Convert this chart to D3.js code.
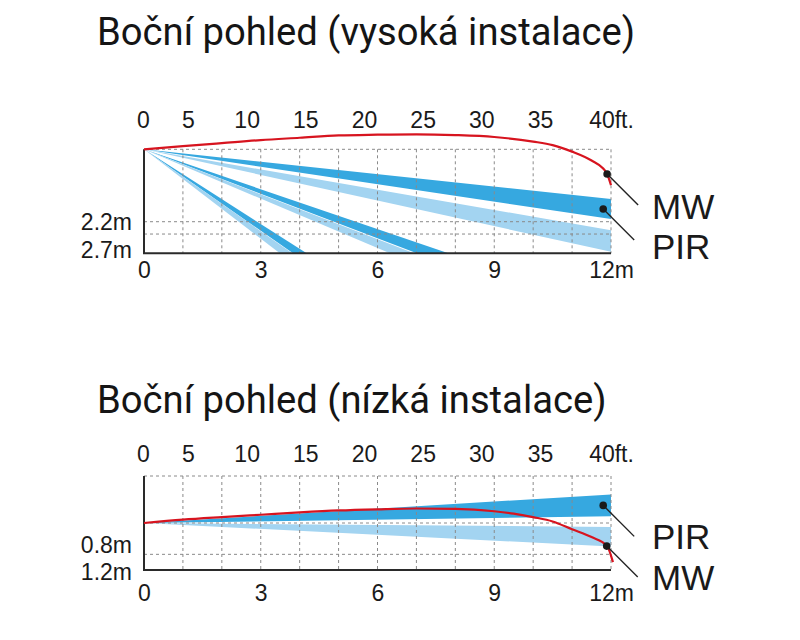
<!DOCTYPE html>
<html>
<head>
<meta charset="utf-8">
<script src="https://cdn.jsdelivr.net/npm/d3@7"></script>
<style>
    html, body { margin: 0; padding: 0; background: #fff; }
    svg { display: block; }
</style>
</head>
<body>
<div class="chart-container"></div>
<script>
// ---- data ----
const titles = ["Boční pohled (vysoká instalace)", "Boční pohled (nízká instalace)"];

const meterTicks = [0, 3, 6, 9, 12];
const feetTicks = [0, 5, 10, 15, 20, 25, 30, 35, 40];

// high mount (sensor at 2.7 m)
const highHeightLabels = ["2.2m", "2.7m"];
const highHeightValues = [2.2, 2.7];
const highGridDepths = [0, 1.88, 2.2];
const highMwX = [0, 1, 2, 3, 4, 5, 6, 7, 8, 9, 10, 10.5, 11, 11.5, 11.8, 11.9, 12];
const highMwDepth = [0, -0.08, -0.16, -0.24, -0.3, -0.36, -0.38, -0.39, -0.37, -0.32, -0.2, -0.11, 0.06, 0.29, 0.5, 0.64, 0.93];
// bands: end of upper edge and end of lower edge (distance m, depth m)
const highBandTone = ["dark", "light", "dark", "light", "dark", "light"];
const highBandUpper = [[12, 1.29], [12, 2.1], [7.82, 2.7], [6.94, 2.7], [4.18, 2.7], [3.81, 2.7]];
const highBandLower = [[12, 1.81], [12, 2.66], [7.01, 2.7], [6.32, 2.7], [3.83, 2.7], [3.49, 2.7]];
const highMarkers = [["MW", 11.9, 0.64], ["PIR", 11.8, 1.55]];

// low mount (sensor at 1.2 m)
const lowHeightLabels = ["0.8m", "1.2m"];
const lowHeightValues = [0.8, 1.2];
const lowGridDepths = [-1.2, 0, 0.8];
const lowMwX = [0, 1, 2, 3, 4, 5, 6, 7, 8, 9, 9.5, 10, 10.5, 11, 11.5, 11.9, 12.05];
const lowMwDepth = [0, -0.085, -0.15, -0.21, -0.27, -0.32, -0.35, -0.37, -0.36, -0.3, -0.24, -0.15, -0.04, 0.16, 0.36, 0.59, 1.0];
const lowBandTone = ["dark", "light"];
const lowBandUpper = [[12, -0.73], [12, 0.1]];
const lowBandLower = [[12, -0.17], [12, 0.6]];
const lowMarkers = [["PIR", 11.8, -0.45], ["MW", 11.89, 0.59]];

const tones = { dark: "#36a8e0", light: "#a3d4f1" };
const red = "#d7141f";
const tickFont = "'Liberation Sans', Arial, sans-serif";

const svg = d3.select(".chart-container")
    .append("svg")
    .attr("width", 800)
    .attr("height", 640);

const xScale = d3.scaleLinear().domain([0, 12]).range([144, 611]);
// feet labels are hand-placed in the original, not to scale
const ftScale = d3.scaleLinear().domain([0, 5, 35, 40]).range([143, 188, 540, 611]);

function drawPanel(p) {
    const yScale = d3.scaleLinear().domain(p.depthDomain).range(p.yRange);
    const g = svg.append("g");

    g.append("text")
        .attr("x", 97)
        .attr("y", p.titleY)
        .attr("font-family", "Roboto, sans-serif")
        .attr("font-size", 38.2)
        .attr("fill", "#151515")
        .text(p.title);

    // beams
    const origin = [xScale(0), yScale(0)];
    g.selectAll(".band")
        .data(p.tone.map((t, i) => ({ tone: t, up: p.upper[i], lo: p.lower[i] })))
        .join("path")
        .attr("class", "band")
        .attr("d", d => "M" + [origin,
            [xScale(d.up[0]), yScale(d.up[1])],
            [xScale(d.lo[0]), yScale(d.lo[1])]].join("L") + "Z")
        .attr("fill", d => tones[d.tone]);

    // dashed grid
    const grid = g.append("g")
        .attr("stroke", "#8a8a8a")
        .attr("stroke-width", 1)
        .attr("stroke-dasharray", "3,3");
    grid.selectAll("line.v")
        .data(d3.range(1, 13))
        .join("line")
        .attr("x1", d => xScale(d)).attr("x2", d => xScale(d))
        .attr("y1", p.yRange[0]).attr("y2", p.yRange[1]);
    grid.selectAll("line.h")
        .data(p.gridDepths)
        .join("line")
        .attr("x1", xScale(0)).attr("x2", xScale(12))
        .attr("y1", d => yScale(d)).attr("y2", d => yScale(d));

    // axes lines (left wall + floor)
    g.append("path")
        .attr("d", `M${xScale(0)},${p.yRange[0]}V${p.yRange[1]}H${xScale(12)}`)
        .attr("fill", "none")
        .attr("stroke", "#2a2a2a")
        .attr("stroke-width", 2);

    // metre axis
    const mAxis = d3.axisBottom(xScale)
        .tickValues(meterTicks)
        .tickSize(0)
        .tickFormat(d => d === 12 ? "12m" : d);
    const mg = g.append("g")
        .attr("transform", `translate(0, ${p.mY})`)
        .call(mAxis);
    mg.select(".domain").remove();
    mg.selectAll("text")
        .attr("y", 0).attr("dy", 0)
        .attr("font-family", tickFont)
        .attr("font-size", 23)
        .attr("fill", "#1a1a1a");

    // feet axis
    const fAxis = d3.axisTop(ftScale)
        .tickValues(feetTicks)
        .tickSize(0)
        .tickFormat(d => d === 40 ? "40ft." : d);
    const fg = g.append("g")
        .attr("transform", `translate(0, ${p.ftY})`)
        .call(fAxis);
    fg.select(".domain").remove();
    fg.selectAll("text")
        .attr("y", 0).attr("dy", 0)
        .attr("font-family", tickFont)
        .attr("font-size", 23)
        .attr("fill", "#1a1a1a");

    // mount height labels
    g.selectAll(".hlabel")
        .data(p.heightLabels)
        .join("text")
        .attr("class", "hlabel")
        .attr("x", 132)
        .attr("y", (d, i) => yScale(p.heightValues[i]) + p.heightDy[i])
        .attr("text-anchor", "end")
        .attr("font-family", tickFont)
        .attr("font-size", 23)
        .attr("fill", "#1a1a1a")
        .text(d => d);

    // MW curve
    const line = d3.line()
        .x(i => xScale(p.mwX[i]))
        .y(i => yScale(p.mwDepth[i]))
        .curve(d3.curveMonotoneX);
    g.append("path")
        .datum(d3.range(p.mwX.length))
        .attr("d", line)
        .attr("fill", "none")
        .attr("stroke", red)
        .attr("stroke-width", 2.2);

    // markers with leaders
    const mk = g.selectAll(".marker")
        .data(p.markers)
        .join("g")
        .attr("class", "marker")
        .attr("transform", d => `translate(${xScale(d[1])}, ${yScale(d[2])})`);
    mk.append("line")
        .attr("x1", 0).attr("y1", 0)
        .attr("x2", 31).attr("y2", 31)
        .attr("stroke", "#222")
        .attr("stroke-width", 1.4);
    mk.append("circle")
        .attr("r", 3.8)
        .attr("fill", "#1a1a1a");
    mk.append("text")
        .attr("x", d => 652 - xScale(d[1]))
        .attr("y", (d, i) => 31 + p.markerDy[i])
        .attr("font-family", tickFont)
        .attr("font-size", 35)
        .attr("fill", "#1a1a1a")
        .text(d => d[0]);
}

drawPanel({
    title: titles[0], titleY: 44.5,
    depthDomain: [0, 2.7], yRange: [149.3, 253.3],
    gridDepths: highGridDepths,
    ftY: 128, mY: 278.3,
    heightLabels: highHeightLabels, heightValues: highHeightValues, heightDy: [-4, 5],
    mwX: highMwX, mwDepth: highMwDepth,
    tone: highBandTone, upper: highBandUpper, lower: highBandLower,
    markers: highMarkers, markerDy: [14, 19]
});

drawPanel({
    title: titles[1], titleY: 412.7,
    depthDomain: [-1.2, 1.2], yRange: [476, 570],
    gridDepths: lowGridDepths,
    ftY: 461.7, mY: 600.7,
    heightLabels: lowHeightLabels, heightValues: lowHeightValues, heightDy: [-1, 10],
    mwX: lowMwX, mwDepth: lowMwDepth,
    tone: lowBandTone, upper: lowBandUpper, lower: lowBandLower,
    markers: lowMarkers, markerDy: [13, 13]
});
</script>
</body>
</html>
